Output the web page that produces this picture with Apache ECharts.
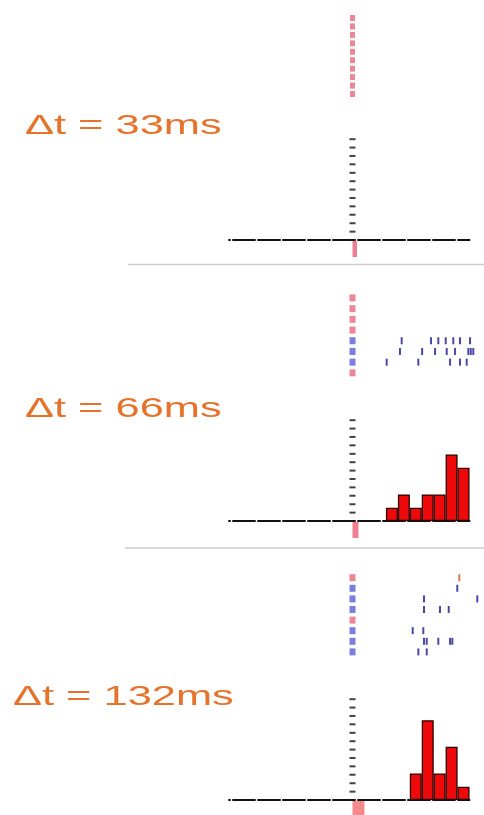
<!DOCTYPE html>
<html><head><meta charset="utf-8">
<script src="https://cdn.jsdelivr.net/npm/echarts@6/dist/echarts.min.js"></script>
<style>html,body{margin:0;padding:0;background:#fff}#c{width:484px;height:815px}</style>
</head><body><div id="c"></div>
<script>
// ---------- data ----------
const panelLabels = ['Δt = 33ms', 'Δt = 66ms', 'Δt = 132ms'];
const stimDurations = [33, 66, 132];               // ms, pink stimulus bar under the axis
// trial marker types (p = no response, b = response)
const trialTypes1 = ['p','p','p','p','p','p','p','p','p','p'];
const trialTypes2 = ['p','p','p','p','b','b','b','p'];
const trialTypes3 = ['p','b','b','b','p','b','b','b'];
// spikes: [trial, time ms]
const spikes1 = [];
const spikes2 = [
  [5,544],[5,868],[5,949],[5,1031],[5,1115],[5,1189],[5,1300],
  [6,525],[6,770],[6,913],[6,1042],[6,1134],[6,1281],[6,1308],[6,1336],
  [7,378],[7,728],[7,1079],[7,1189],[7,1263]
];
const spikes3 = [
  [2,1159],
  [3,791],[3,1380],
  [4,791],[4,968],[4,1064],
  [6,666],[6,783],
  [7,791],[7,821],[7,949],[7,1079],[7,1104],
  [8,728],[8,821]
];
const spikesOrange3 = [[1,1181]];
// PSTH
const binCenters = [436, 568, 700, 832, 964, 1096, 1228];
const counts1 = [0, 0, 0, 0, 0, 0, 0];
const counts2 = [1, 2, 1, 2, 2, 5, 4];
const counts3 = [0, 0, 2, 6, 2, 4, 1];
// y-axis tick dashes of the PSTH (count units)
const yTickDashes = [0.63,1.26,1.9,2.53,3.16,3.79,4.42,5.05,5.69,6.32,6.95,7.58];
const timeMin = -1366, timeMax = 1294;

// ---------- layout ----------
const chart = echarts.init(document.getElementById('c'), null, {renderer: 'canvas'});
const X_LEFT = 229, X_W = 240.5;
const panels = [
  {types: trialTypes1, spikes: spikes1, orange: [], counts: counts1, rasterTop: 13.8, rasterH: 84.4, base: 240, sq: [5,6], label: [25,126], stimColor:'#ee7f90'},
  {types: trialTypes2, spikes: spikes2, orange: [], counts: counts2, rasterTop: 292.6, rasterH: 85.6, base: 521, sq: [6,7], label: [25,409], stimColor:'#ee7f90'},
  {types: trialTypes3, spikes: spikes3, orange: spikesOrange3, counts: counts3, rasterTop: 572.4, rasterH: 84.8, base: 800, sq: [6,7], label: [13,697], stimColor:'#f28a8e'}
];
const UNIT = 13.3, YMAX = 8;
const grid = [], xAxis = [], yAxis = [], series = [], graphic = [];
const PINK = '#e97a8c', BLUE = '#6c70d8';
const toXY = arr => arr.map(d => [d[1], d[0]]);

panels.forEach((p, i) => {
  const gR = i * 2, gH = i * 2 + 1;
  grid.push({left: X_LEFT, width: X_W, top: p.rasterTop, height: p.rasterH});
  grid.push({left: X_LEFT, width: X_W, top: p.base - YMAX * UNIT, height: YMAX * UNIT});
  xAxis.push({type: 'value', gridIndex: gR, min: timeMin, max: timeMax, show: false});
  xAxis.push({type: 'value', gridIndex: gH, min: timeMin, max: timeMax,
    axisLine: {show: true, onZero: false, lineStyle: {color: '#111', width: 2, type: [22, 3], dashOffset: -4}},
    axisTick: {show: false}, axisLabel: {show: false}, splitLine: {show: false}});
  yAxis.push({type: 'value', gridIndex: gR, min: 0.5, max: p.types.length + 0.5, inverse: true, show: false});
  yAxis.push({type: 'value', gridIndex: gH, min: 0, max: YMAX, show: false});

  // trial squares
  series.push({type: 'scatter', xAxisIndex: gR, yAxisIndex: gR, symbol: 'rect', symbolSize: p.sq,
    data: p.types.map((t, k) => ({value: [0, k + 1], itemStyle: {color: t === 'b' ? BLUE : PINK, opacity: 0.9}})),
    silent: true, clip: false});
  // spikes
  series.push({type: 'scatter', xAxisIndex: gR, yAxisIndex: gR, symbol: 'rect', symbolSize: [2, 7],
    itemStyle: {color: '#1c1c8e'}, data: toXY(p.spikes), silent: true, clip: false});
  if (p.orange.length) series.push({type: 'scatter', xAxisIndex: gR, yAxisIndex: gR, symbol: 'rect', symbolSize: [2, 7],
    itemStyle: {color: '#d8542a'}, data: toXY(p.orange), silent: true, clip: false});
  // histogram
  series.push({type: 'bar', xAxisIndex: gH, yAxisIndex: gH, barWidth: 12,
    itemStyle: {color: '#ee0a0a', borderColor: '#2a0000', borderWidth: 1.3},
    data: binCenters.map((c, k) => [c, p.counts[k]]).filter(d => d[1] > 0), silent: true, z: 3});
  // y tick dashes
  series.push({type: 'scatter', xAxisIndex: gH, yAxisIndex: gH, symbol: 'rect', symbolSize: [6, 2],
    itemStyle: {color: '#111'}, data: yTickDashes.map(v => [0, v]), silent: true});
  // stimulus bar
  series.push({type: 'custom', xAxisIndex: gH, yAxisIndex: gH, data: [[0, stimDurations[i]]], silent: true, clip: false, z: 4,
    renderItem: (params, api) => {
      const a = api.coord([api.value(0), 0]), b = api.coord([api.value(1), 0]);
      return {type: 'rect', shape: {x: a[0], y: a[1] + 1, width: Math.max(b[0] - a[0], 4.5), height: 16},
        style: {fill: p.stimColor}};
    }});
  // label
  graphic.push({type: 'text', x: p.label[0], y: p.label[1], scaleX: 1.55, scaleY: 1,
    style: {text: panelLabels[i], font: '28px "Liberation Sans", Arial, sans-serif', fill: '#e5732c',
      textAlign: 'left', textVerticalAlign: 'middle', verticalAlign: 'middle'}});
});
// separators
graphic.push({type: 'line', shape: {x1: 128, y1: 264.5, x2: 484, y2: 264.5}, style: {stroke: '#cdcdcd', lineWidth: 1.5}});
graphic.push({type: 'line', shape: {x1: 125, y1: 548, x2: 484, y2: 548}, style: {stroke: '#cdcdcd', lineWidth: 1.5}});

chart.setOption({animation: false, backgroundColor: '#fff', grid, xAxis, yAxis, series, graphic});
</script></body></html>
